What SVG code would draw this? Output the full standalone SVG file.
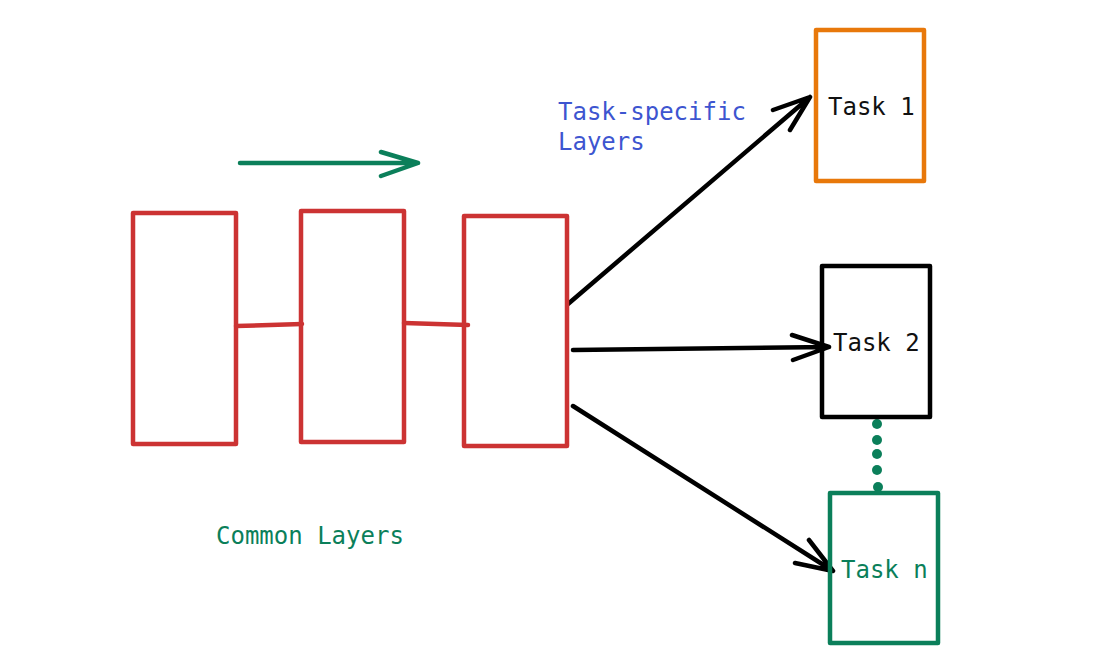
<svg xmlns="http://www.w3.org/2000/svg" width="1107" height="668" viewBox="0 0 1107 668">
<style>
.box{fill:none;stroke-width:4.5;stroke-linejoin:round;stroke-linecap:round}
.red{stroke:#cc3333}
.ln{fill:none;stroke-width:4.5;stroke-linecap:round;stroke-linejoin:round}
.t{font-family:"DejaVu Sans Mono","Liberation Mono",monospace;font-size:24px}
</style>
<rect width="1107" height="668" fill="#ffffff"/>
<g id="connectors">
<path class="ln" stroke="#cc3333" d="M236 326 L302 324"/>
<path class="ln" stroke="#cc3333" d="M404 323 L468 325"/>
<path class="ln" stroke="#0b7f5a" d="M240 163 L418 163 M381 152 L418 163 L381 176"/>
<path class="ln" stroke="#000" d="M568 304 L810 97 M773 110 L810 97 L790 130"/>
<path class="ln" stroke="#000" d="M573 350 L829 347 M792 335 L829 347 L793 360"/>
<path class="ln" stroke="#000" d="M573 406 L833 571 M809 540 L833 571 L795 563"/>
<g fill="#0b7f5a">
<circle cx="877" cy="424" r="5"/><circle cx="877" cy="440" r="5"/><circle cx="877" cy="454" r="5"/><circle cx="877" cy="470" r="5"/><circle cx="878" cy="487" r="5"/>
</g>
</g>
<g id="layer1"><rect class="box red" x="133" y="213" width="103" height="231"/></g>
<g id="layer2"><rect class="box red" x="301" y="211" width="103" height="231"/></g>
<g id="layer3"><rect class="box red" x="464" y="216" width="103" height="230"/></g>
<g id="task1"><rect class="box" stroke="#e8780a" x="816" y="30" width="108" height="151"/><text class="t" x="828" y="115" fill="#111">Task 1</text></g>
<g id="task2"><rect class="box" stroke="#000" x="822" y="266" width="108" height="151"/><text class="t" x="833" y="351" fill="#111">Task 2</text></g>
<g id="taskn"><rect class="box" stroke="#0b7f5a" x="830" y="493" width="108" height="150"/><text class="t" x="841" y="578" fill="#0b7f5a">Task n</text></g>
<g id="label-task-specific"><text class="t" x="558" y="120" fill="#3d55d0">Task-specific</text><text class="t" x="558" y="150" fill="#3d55d0">Layers</text></g>
<g id="label-common"><text class="t" x="216" y="544" fill="#0b7f5a">Common Layers</text></g>
</svg>
